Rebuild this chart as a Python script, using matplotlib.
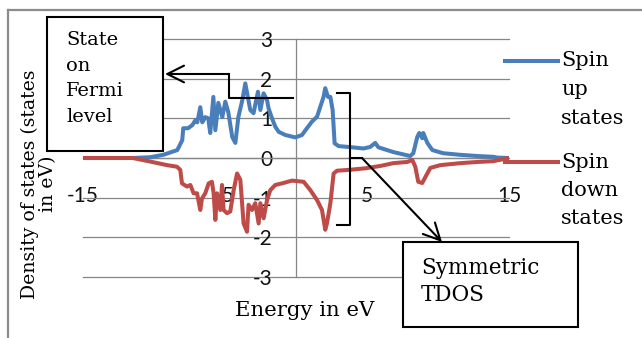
import matplotlib
matplotlib.use("Agg")
import matplotlib.pyplot as plt
from matplotlib.patches import Rectangle, FancyArrowPatch
from matplotlib.lines import Line2D

plt.rcParams['axes.unicode_minus'] = False

# ---- data ----
up_x = [-15, -11.5, -10.26, -9.35, -8.36, -8.01, -7.94, -7.6, -7.3, -7.09, -6.95, -6.74, -6.60,
        -6.39, -6.18, -6.04, -5.82, -5.68, -5.47, -5.19, -4.98, -4.77, -4.49, -4.27, -4.06,
        -3.78, -3.57, -3.22, -2.99, -2.68, -2.51, -2.28, -2.04, -1.93, -1.69, -1.46, -1.22,
        -0.75, -0.05, 0.42, 0.77, 1.13, 1.48, 1.71, 1.94, 2.06, 2.25, 2.42, 2.58, 2.72, 3.0,
        3.94, 4.76, 5.23, 5.58, 5.80, 6.85, 8.04, 8.26, 8.54, 8.68, 8.89, 8.96, 9.25, 9.60,
        10.37, 11.57, 12.77, 13.89, 14.18, 15]
up_y = [0, 0, 0.02, 0.08, 0.2, 0.45, 0.75, 0.75, 0.83, 0.95, 0.9, 1.28, 0.9,
        1.03, 1.0, 0.63, 1.54, 0.7, 1.39, 1.03, 1.42, 1.16, 0.53, 0.38, 1.03,
        1.46, 1.88, 1.21, 1.13, 1.67, 1.21, 1.63, 1.46, 1.25, 1.0, 0.79, 0.66,
        0.58, 0.52, 0.58, 0.75, 0.92, 1.04, 1.29, 1.54, 1.76, 1.54, 1.54, 1.21, 0.37, 0.3,
        0.27, 0.24, 0.28, 0.38, 0.27, 0.15, 0.05, 0.12, 0.53, 0.63, 0.5, 0.63, 0.38, 0.2,
        0.12, 0.08, 0.05, 0.03, 0.01, 0]

down_x = [-15, -11.5, -10.26, -9.08, -8.38, -8.15, -8.03, -7.68, -7.44, -7.21, -6.97, -6.74,
          -6.62, -6.39, -6.15, -5.92, -5.80, -5.68, -5.56, -5.33, -5.21, -5.10, -4.86, -4.63,
          -4.39, -4.15, -3.92, -3.69, -3.45, -3.34, -3.10, -2.87, -2.63, -2.51, -2.28, -2.04,
          -1.81, -1.46, -0.99, -0.28, 0.54, 1.01, 1.48, 1.83, 2.06, 2.18, 2.42, 2.65, 2.89,
          3.70, 4.88, 5.94, 6.85, 7.84, 8.19, 8.40, 8.61, 8.89, 9.11, 9.46, 10.16, 11.57,
          12.77, 13.89, 14.59, 14.87, 14.94, 15]
down_y = [0, 0, -0.09, -0.18, -0.22, -0.3, -0.64, -0.72, -0.68, -0.89, -0.89, -1.31,
          -1.02, -0.89, -0.64, -0.6, -0.89, -1.56, -0.89, -1.31, -0.68, -1.31, -1.39, -1.35,
          -0.81, -0.39, -0.55, -1.65, -1.86, -1.18, -1.31, -1.14, -1.65, -1.14, -1.52, -1.06,
          -0.81, -0.68, -0.64, -0.57, -0.6, -0.81, -1.06, -1.31, -1.81, -1.65, -1.14, -0.39, -0.32,
          -0.30, -0.26, -0.2, -0.13, -0.1, -0.05, -0.22, -0.6, -0.63, -0.48, -0.25, -0.18, -0.13,
          -0.1, -0.08, -0.03, 0.0, -0.1, -0.1]

x_ticks = [-15, -5, 5, 15]
x_tick_labels = ["-15", "-5", "5", "15"]
y_ticks = [-3, -2, -1, 0, 1, 2, 3]
y_tick_labels = ["-3", "-2", "-1", "0", "1", "2", "3"]
series_names = ["Spin\nup\nstates", "Spin\ndown\nstates"]

BLUE = "#4A7EBB"
RED = "#BE4B48"
GRID = "#868686"
W, H = 642, 338


def F(px, py):
    return (px / W, 1 - py / H)


fig = plt.figure(figsize=(W / 100, H / 100), dpi=100)
fig.patch.set_facecolor("white")

ax = fig.add_axes([83 / W, 1 - 277 / H, (509 - 83) / W, (277 - 39) / H])
ax.set_xlim(-15, 15)
ax.set_ylim(-3, 3)
ax.plot(up_x, up_y, color=BLUE, lw=2.9, solid_joinstyle='round', zorder=3)
ax.plot(down_x, down_y, color=RED, lw=2.9, solid_joinstyle='round', zorder=4)

for s in ["top", "right"]:
    ax.spines[s].set_visible(False)
ax.spines["left"].set_position(("data", 0))
ax.spines["bottom"].set_position(("data", 0))
ax.spines["left"].set_color(GRID)
ax.spines["bottom"].set_color(GRID)
ax.spines["left"].set_linewidth(0.9)
ax.spines["bottom"].set_linewidth(0.9)
ax.set_xticks(x_ticks)
ax.set_xticklabels(x_tick_labels)
ax.set_yticks(y_ticks)
ax.set_yticklabels(y_tick_labels)
ax.tick_params(axis="x", length=0, pad=20, labelsize=15)
ax.tick_params(axis="y", length=0, pad=17, labelsize=15)
for lab in ax.get_xticklabels() + ax.get_yticklabels():
    lab.set_fontfamily("Lato")
    lab.set_color("#111111")
ax.yaxis.grid(True, color=GRID, lw=0.9)
for gl in ax.get_ygridlines():
    gl.set_clip_on(False)
ax.set_axisbelow(True)
ax.patch.set_alpha(0)

SERIF = "DejaVu Serif"

# axis titles
fig.text(*F(305, 311), "Energy in eV", ha="center", va="center", fontsize=15.3, family=SERIF)
fig.text(*F(39, 184), "Density of states (states\nin eV)", rotation=90, ha="center",
         va="center", multialignment="center", fontsize=13.6, family=SERIF, linespacing=1.05)

# legend
for yk, name, col in [(61, series_names[0], BLUE), (162, series_names[1], RED)]:
    fig.add_artist(Line2D([505 / W, 558 / W], [1 - yk / H, 1 - yk / H], color=col, lw=2.9,
                          transform=fig.transFigure))
    for i, word in enumerate(name.split("\n")):
        fig.text(*F(561, yk + 28.5 * i), word, ha="left", va="center", fontsize=15, family=SERIF)

# outer frame (top & left visible)
fig.add_artist(Line2D([8 / W, 1.0], [1 - 10 / H, 1 - 10 / H], color="#8c8c8c", lw=1.6,
                      transform=fig.transFigure))
fig.add_artist(Line2D([8 / W, 8 / W], [1 - 10 / H, 0], color="#8c8c8c", lw=1.6,
                      transform=fig.transFigure))

# Fermi box
fig.add_artist(Rectangle(F(47, 151), (163 - 47) / W, (151 - 17) / H, transform=fig.transFigure,
                         facecolor="white", edgecolor="black", lw=1.5, zorder=5))
for i, word in enumerate(["State", "on", "Fermi", "level"]):
    t = fig.text(*F(66, 40 + 25.7 * i), word, ha="left", va="center", fontsize=14, family=SERIF)
    t.set_zorder(6)

# arrow to Fermi box
fig.add_artist(Line2D([293 / W, 229 / W, 229 / W], [1 - 98 / H, 1 - 98 / H, 1 - 74 / H],
                      color="black", lw=1.5, transform=fig.transFigure, zorder=6))
fig.add_artist(FancyArrowPatch(F(229, 74), F(165, 74), transform=fig.transFigure,
                               arrowstyle="->,head_length=12,head_width=6", mutation_scale=1,
                               color="black", lw=1.5, zorder=6, shrinkA=0, shrinkB=0))

# bracket
fig.add_artist(Line2D([337 / W, 350 / W, 350 / W, 337 / W],
                      [1 - 93 / H, 1 - 93 / H, 1 - 225 / H, 1 - 225 / H],
                      color="black", lw=1.5, transform=fig.transFigure, zorder=6))

# arrow to symmetric box
fig.add_artist(Line2D([350 / W, 362 / W], [1 - 158 / H, 1 - 158 / H],
                      color="black", lw=1.5, transform=fig.transFigure, zorder=6))
fig.add_artist(FancyArrowPatch(F(362, 158), F(442, 242), transform=fig.transFigure,
                               arrowstyle="->,head_length=12,head_width=6", mutation_scale=1,
                               color="black", lw=1.5, zorder=6, shrinkA=0, shrinkB=0))

# Symmetric TDOS box
fig.add_artist(Rectangle(F(403, 327), (578 - 403) / W, (327 - 242) / H, transform=fig.transFigure,
                         facecolor="white", edgecolor="black", lw=1.5, zorder=5))
for i, word in enumerate(["Symmetric", "TDOS"]):
    t = fig.text(*F(421, 268 + 27 * i), word, ha="left", va="center", fontsize=15.5, family=SERIF)
    t.set_zorder(6)

fig.savefig("out.png", dpi=100, facecolor="white")
